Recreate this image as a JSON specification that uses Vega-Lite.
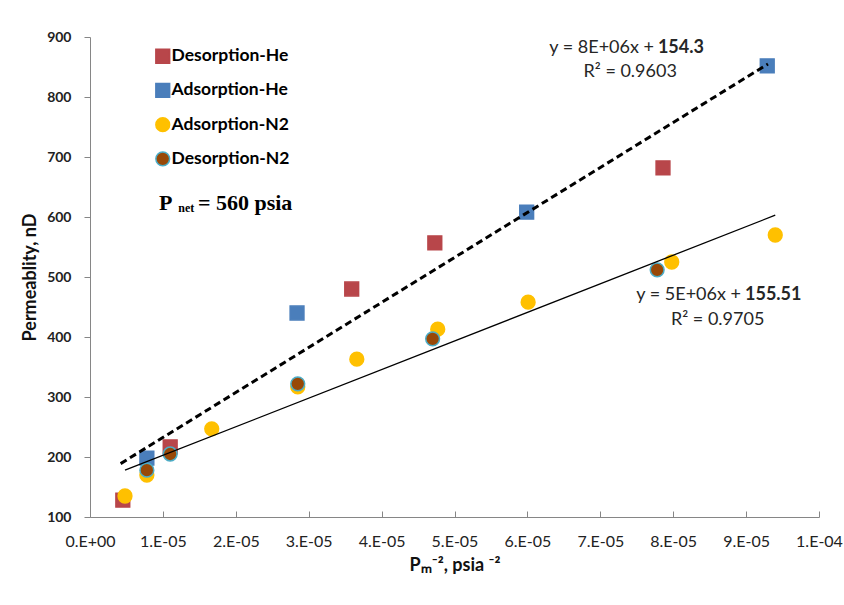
{
  "$schema": "https://vega.github.io/schema/vega-lite/v6.json",
  "width": 729,
  "height": 480,
  "autosize": "none",
  "padding": {"left": 90, "top": 37, "right": 25, "bottom": 88},
  "background": "white",
  "config": {"view": {"stroke": null}, "font": "Lato"},
  "datasets": {
    "pts": [
      {"series": "Desorption-He", "x": 0.0000045, "y": 128},
      {"series": "Desorption-He", "x": 0.0000110, "y": 217},
      {"series": "Desorption-He", "x": 0.0000359, "y": 480},
      {"series": "Desorption-He", "x": 0.0000473, "y": 557},
      {"series": "Desorption-He", "x": 0.0000786, "y": 682},
      {"series": "Adsorption-He", "x": 0.0000078, "y": 198},
      {"series": "Adsorption-He", "x": 0.0000284, "y": 440},
      {"series": "Adsorption-He", "x": 0.0000599, "y": 608},
      {"series": "Adsorption-He", "x": 0.0000929, "y": 852},
      {"series": "Adsorption-N2", "x": 0.0000048, "y": 135},
      {"series": "Adsorption-N2", "x": 0.0000078, "y": 170},
      {"series": "Adsorption-N2", "x": 0.0000167, "y": 247},
      {"series": "Adsorption-N2", "x": 0.0000285, "y": 317},
      {"series": "Adsorption-N2", "x": 0.0000366, "y": 363},
      {"series": "Adsorption-N2", "x": 0.0000477, "y": 413},
      {"series": "Adsorption-N2", "x": 0.0000601, "y": 458},
      {"series": "Adsorption-N2", "x": 0.0000798, "y": 525},
      {"series": "Adsorption-N2", "x": 0.0000940, "y": 570},
      {"series": "Desorption-N2", "x": 0.0000078, "y": 178},
      {"series": "Desorption-N2", "x": 0.0000110, "y": 205},
      {"series": "Desorption-N2", "x": 0.0000285, "y": 322},
      {"series": "Desorption-N2", "x": 0.0000470, "y": 397},
      {"series": "Desorption-N2", "x": 0.0000778, "y": 512}
    ],
    "fits": [
      {"fit": "He", "x": 0.0000042, "y": 189},
      {"fit": "He", "x": 0.0000930, "y": 855},
      {"fit": "N2", "x": 0.0000048, "y": 178},
      {"fit": "N2", "x": 0.0000940, "y": 603}
    ]
  },
  "layer": [
    {
      "data": {"name": "pts"},
      "mark": {"type": "point", "filled": true, "opacity": 1, "strokeWidth": 1.5, "size": 190},
      "encoding": {
        "x": {
          "field": "x", "type": "quantitative",
          "scale": {"domain": [0, 0.0001], "nice": false, "zero": false},
          "axis": {
            "values": [0, 0.00001, 0.00002, 0.00003, 0.00004, 0.00005, 0.00006, 0.00007, 0.00008, 0.00009, 0.0001],
            "labelExpr": "replace(replace(format(datum.value, '.0e'), 'e-', '.E-0'), 'e+', '.E+0')",
            "labelOverlap": false,
            "labelFlush": false,
            "title": "Pₘ⁻², psia ⁻²",
            "titleFont": "Lato", "titleFontSize": 18, "titleFontWeight": "bold", "titleColor": "#111",
            "titlePadding": 7,
            "labelFont": "Lato", "labelFontSize": 16, "labelColor": "#222",
            "labelPadding": 22,
            "tickSize": -6, "tickColor": "#868686", "domainColor": "#868686",
            "grid": false
          }
        },
        "y": {
          "field": "y", "type": "quantitative",
          "scale": {"domain": [100, 900], "nice": false, "zero": false},
          "axis": {
            "values": [100, 200, 300, 400, 500, 600, 700, 800, 900],
            "labelOverlap": false,
            "labelFlush": false,
            "title": "Permeablity, nD",
            "titleFont": "Lato", "titleFontSize": 18, "titleFontWeight": "bold", "titleColor": "#111",
            "titlePadding": 7,
            "labelFont": "Lato", "labelFontSize": 14, "labelColor": "#222", "labelFontWeight": "bold",
            "labelPadding": 13,
            "tickSize": 6, "tickColor": "#868686", "domainColor": "#868686",
            "grid": false
          }
        },
        "color": {
          "field": "series", "type": "nominal",
          "scale": {"domain": ["Desorption-He", "Adsorption-He", "Adsorption-N2", "Desorption-N2"], "range": ["#B8464A", "#4A7EBB", "#FFC000", "#984807"]},
          "legend": {
            "orient": "none", "legendX": 64, "legendY": 10.5, "title": null,
            "padding": 0, "labelFont": "Lato", "labelFontSize": 17.5, "labelFontWeight": "bold", "labelColor": "#000",
            "symbolSize": 190, "symbolStrokeWidth": 1.5, "rowPadding": 13.2, "labelOffset": 0
          }
        },
        "shape": {
          "field": "series", "type": "nominal",
          "scale": {"domain": ["Desorption-He", "Adsorption-He", "Adsorption-N2", "Desorption-N2"], "range": ["square", "square", "circle", "circle"]}
        },
        "stroke": {
          "field": "series", "type": "nominal",
          "scale": {"domain": ["Desorption-He", "Adsorption-He", "Adsorption-N2", "Desorption-N2"], "range": ["#B8464A", "#4A7EBB", "#FFC000", "#4BACC6"]}
        }
      }
    },
    {
      "data": {"name": "fits"},
      "transform": [{"filter": "datum.fit == 'He'"}],
      "mark": {"type": "line", "color": "#000", "strokeWidth": 3, "strokeDash": [7, 4]},
      "encoding": {
        "x": {"field": "x", "type": "quantitative"},
        "y": {"field": "y", "type": "quantitative"}
      }
    },
    {
      "data": {"name": "fits"},
      "transform": [{"filter": "datum.fit == 'N2'"}],
      "mark": {"type": "line", "color": "#000", "strokeWidth": 1.3},
      "encoding": {
        "x": {"field": "x", "type": "quantitative"},
        "y": {"field": "y", "type": "quantitative"}
      }
    },
    {
      "data": {"values": [
        {"label": "y = 8E+06x +", "x": 0.00007737, "y": 881},
        {"label": "y = 5E+06x +", "x": 0.0000893, "y": 470}
      ]},
      "mark": {"type": "text", "align": "right", "baseline": "middle", "fontSize": 18, "font": "Lato", "color": "#262626"},
      "encoding": {
        "x": {"field": "x", "type": "quantitative"},
        "y": {"field": "y", "type": "quantitative"},
        "text": {"field": "label"}
      }
    },
    {
      "data": {"values": [
        {"label": "154.3", "x": 0.0000779, "y": 881},
        {"label": "155.51", "x": 0.00008985, "y": 470}
      ]},
      "mark": {"type": "text", "align": "left", "baseline": "middle", "fontSize": 18, "font": "Lato", "fontWeight": "bold", "color": "#262626"},
      "encoding": {
        "x": {"field": "x", "type": "quantitative"},
        "y": {"field": "y", "type": "quantitative"},
        "text": {"field": "label"}
      }
    },
    {
      "data": {"values": [
        {"label": "R² = 0.9603", "x": 0.0000741, "y": 841},
        {"label": "R² = 0.9705", "x": 0.0000861, "y": 428}
      ]},
      "mark": {"type": "text", "align": "center", "baseline": "middle", "fontSize": 18, "font": "Lato", "color": "#262626"},
      "encoding": {
        "x": {"field": "x", "type": "quantitative"},
        "y": {"field": "y", "type": "quantitative"},
        "text": {"field": "label"}
      }
    },
    {
      "data": {"values": [
        {"label": "P", "x": 0.00000947, "y": 623},
        {"label": "= 560 psia", "x": 0.0000148, "y": 623}
      ]},
      "mark": {"type": "text", "align": "left", "baseline": "middle", "fontSize": 22, "font": "Liberation Serif", "fontWeight": "bold", "color": "#000"},
      "encoding": {
        "x": {"field": "x", "type": "quantitative"},
        "y": {"field": "y", "type": "quantitative"},
        "text": {"field": "label"}
      }
    },
    {
      "data": {"values": [
        {"label": "net", "x": 0.0000121, "y": 615}
      ]},
      "mark": {"type": "text", "align": "left", "baseline": "middle", "fontSize": 12, "font": "Liberation Serif", "fontWeight": "bold", "color": "#000"},
      "encoding": {
        "x": {"field": "x", "type": "quantitative"},
        "y": {"field": "y", "type": "quantitative"},
        "text": {"field": "label"}
      }
    }
  ]
}
